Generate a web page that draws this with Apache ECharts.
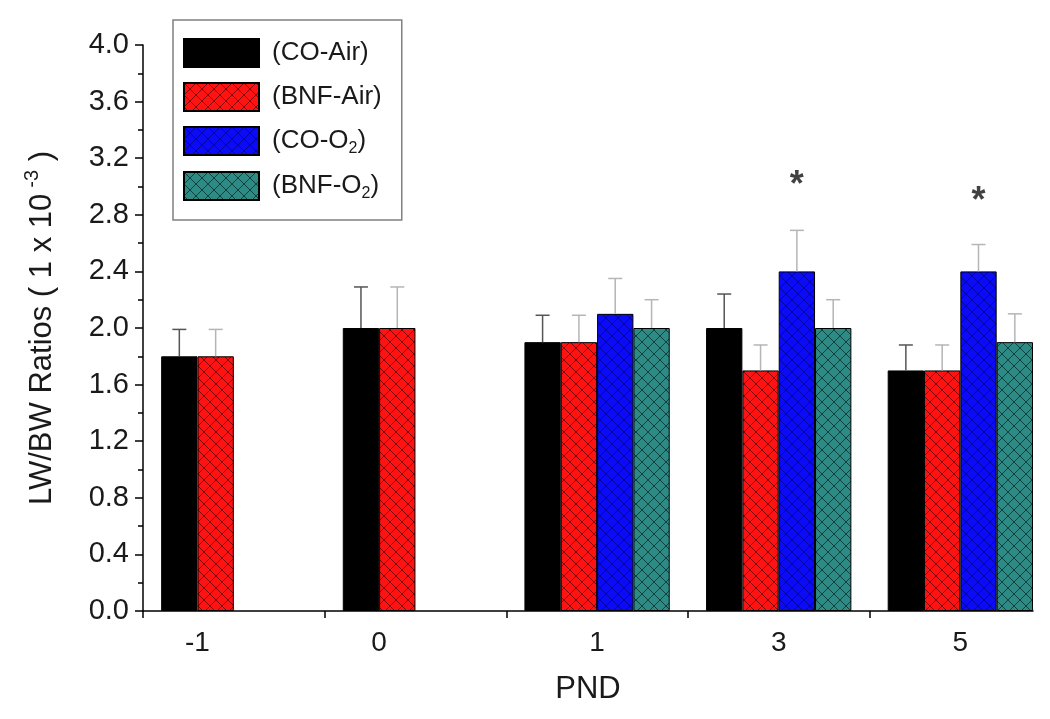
<!DOCTYPE html>
<html>
<head>
<meta charset="utf-8">
<script src="https://cdn.jsdelivr.net/npm/echarts@6/dist/echarts.min.js"></script>
<style>html,body{margin:0;padding:0;background:#fff}#c{width:1050px;height:719px}</style>
</head>
<body>
<div id="c"></div>
<script>
// ---- data ----
const categories = ['-1', '0', '1', '3', '5'];
const seriesNames = ['(CO-Air)', '(BNF-Air)', '(CO-O2)', '(BNF-O2)'];
const coAir     = [1.8, 2.0, 1.9, 2.0, 1.7];
const coAirErr  = [0.19, 0.29, 0.19, 0.24, 0.18];
const bnfAir    = [1.8, 2.0, 1.9, 1.7, 1.7];
const bnfAirErr = [0.19, 0.29, 0.19, 0.18, 0.18];
const coO2      = [null, null, 2.1, 2.4, 2.4];
const coO2Err   = [null, null, 0.25, 0.29, 0.19];
const bnfO2     = [null, null, 2.0, 2.0, 1.9];
const bnfO2Err  = [null, null, 0.2, 0.2, 0.2];
const sigMark   = [null, null, null, 3.0, 2.89];   // asterisk level above CO-O2
const yTicks    = [0, 0.4, 0.8, 1.2, 1.6, 2.0, 2.4, 2.8, 3.2, 3.6, 4.0];

const values = [coAir, bnfAir, coO2, bnfO2];
const errs = [coAirErr, bnfAirErr, coO2Err, bnfO2Err];

// ---- styles ----
function hatch(base, line) {
  const c = document.createElement('canvas');
  c.width = 12; c.height = 12;
  const g = c.getContext('2d');
  g.fillStyle = base; g.fillRect(0, 0, 12, 12);
  g.strokeStyle = line; g.lineWidth = 1;
  g.beginPath();
  g.moveTo(-1, -1); g.lineTo(13, 13);
  g.moveTo(13, -1); g.lineTo(-1, 13);
  g.stroke();
  return { image: c, repeat: 'repeat' };
}
const fills = [
  '#000000',
  hatch('#ff1212', 'rgba(70,0,0,0.7)'),
  hatch('#0b0bf5', 'rgba(0,0,90,0.55)'),
  hatch('#2e8a85', 'rgba(5,40,38,0.75)')
];
const errColors = ['#555555', '#b5b5b5', '#b5b5b5', '#b5b5b5'];

const nSeries = values.length;
const groupFrac = 0.8;                 // 1 - barCategoryGap
const barFrac = groupFrac / nSeries;

// label position: centre of the bars present in each group
const present = categories.map((c, i) => values.filter(v => v[i] != null).length);
const labelPos = categories.map((c, i) => i - groupFrac / 2 + barFrac * present[i] / 2);
const tickPos = categories.map((c, i) => i - 0.5);
const xMax = categories.length - 1 + groupFrac / 2;

const FONT = 'Liberation Sans';
const TXT = '#1a1a1a';

const series = [];
values.forEach((arr, s) => {
  series.push({
    name: seriesNames[s],
    type: 'bar',
    barGap: '0%',
    barCategoryGap: '20%',
    data: arr.map((v, i) => v == null ? null : [i, v]).filter(d => d),
    itemStyle: { color: fills[s], borderColor: '#000', borderWidth: 1 },
    emphasis: { disabled: true },
    z: 2
  });
});
values.forEach((arr, s) => {
  const col = errColors[s];
  series.push({
    name: 'err' + s,
    type: 'custom',
    data: arr.map((v, i) => v == null ? null : [i - groupFrac / 2 + barFrac * (s + 0.5), v, v + errs[s][i]]).filter(d => d),
    encode: { x: 0, y: [1, 2] },
    renderItem: function (params, api) {
      const p0 = api.coord([api.value(0), api.value(1)]);
      const p1 = api.coord([api.value(0), api.value(2)]);
      return {
        type: 'group',
        children: [
          { type: 'line', shape: { x1: p0[0], y1: p0[1], x2: p1[0], y2: p1[1] }, style: { stroke: col, lineWidth: 1.5 } },
          { type: 'line', shape: { x1: p1[0] - 7, y1: p1[1], x2: p1[0] + 7, y2: p1[1] }, style: { stroke: col, lineWidth: 1.5 } }
        ]
      };
    },
    z: 3,
    silent: true
  });
});
series.push({
  name: 'sig',
  type: 'scatter',
  symbolSize: 0,
  data: sigMark.map((v, i) => v == null ? null : [i - groupFrac / 2 + barFrac * 2.5, v]).filter(d => d),
  label: { show: true, position: 'inside', formatter: '*', fontSize: 36, fontWeight: 'bold', color: '#111', fontFamily: FONT },
  silent: true
});

const chart = echarts.init(document.getElementById('c'), null, { renderer: 'canvas' });
chart.setOption({
  animation: false,
  backgroundColor: '#fff',
  grid: { left: 143, right: 17, top: 45, bottom: 108, containLabel: false },
  legend: {
    data: seriesNames,
    orient: 'vertical',
    left: 173,
    top: 20,
    itemWidth: 75,
    itemHeight: 28,
    itemGap: 14,
    padding: [18, 20, 18, 10],
    borderColor: '#808080',
    borderWidth: 1.5,
    backgroundColor: '#fff',
    icon: 'rect',
    selectedMode: false,
    formatter: n => n.replace('O2', 'O{sub|2}'),
    textStyle: {
      fontFamily: FONT, fontSize: 26, color: TXT, padding: [0, 0, 0, 8],
      rich: { sub: { fontFamily: FONT, fontSize: 16, color: TXT, padding: [16, 0, 0, 0] } }
    }
  },
  xAxis: {
    type: 'value',
    min: -0.5,
    max: xMax,
    name: 'PND',
    nameLocation: 'middle',
    nameGap: 63,
    nameTextStyle: { fontFamily: FONT, fontSize: 31, color: TXT },
    splitLine: { show: false },
    axisLine: { onZero: false, lineStyle: { color: '#000', width: 1.5 } },
    axisTick: { customValues: tickPos, length: 7, lineStyle: { color: '#000', width: 1.5 } },
    axisLabel: {
      customValues: labelPos,
      margin: 18,
      fontFamily: FONT, fontSize: 28, color: TXT,
      formatter: function (v) {
        let best = 0;
        labelPos.forEach((p, i) => { if (Math.abs(p - v) < Math.abs(labelPos[best] - v)) best = i; });
        return categories[best];
      }
    }
  },
  yAxis: {
    type: 'value',
    min: yTicks[0],
    max: yTicks[yTicks.length - 1],
    interval: 0.4,
    name: 'LW/BW Ratios ( 1 x 10{sup|-3} )',
    nameLocation: 'middle',
    nameGap: 81,
    nameRotate: 90,
    nameTextStyle: {
      fontFamily: FONT, fontSize: 31, color: TXT,
      rich: { sup: { fontFamily: FONT, fontSize: 20, color: TXT, padding: [0, 0, 20, 6] } }
    },
    splitLine: { show: false },
    axisLine: { show: true, onZero: false, lineStyle: { color: '#000', width: 1.5 } },
    axisTick: { show: true, length: 8, lineStyle: { color: '#000', width: 1.5 } },
    minorTick: { show: true, splitNumber: 2, length: 5, lineStyle: { color: '#000', width: 1.5 } },
    axisLabel: {
      margin: 14,
      fontFamily: FONT, fontSize: 29, color: TXT,
      formatter: v => v.toFixed(1)
    }
  },
  series: series
});
</script>
</body>
</html>
